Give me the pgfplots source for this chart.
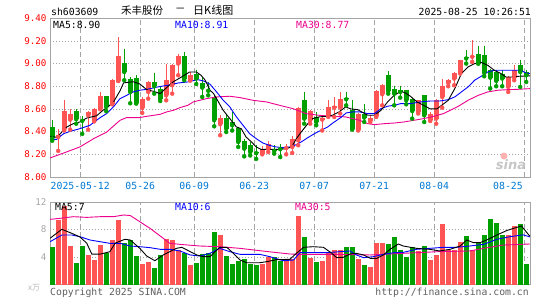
\documentclass[border=0pt]{standalone}
\usepackage{pgfplots}
\pgfplotsset{compat=1.18}
\usepackage{pgfplotstable}
\usepackage{fontspec}
\setmonofont{DejaVu Sans Mono}
\newfontfamily\cjk{Noto Sans CJK SC}
\newfontfamily\wm{DejaVu Sans}

\definecolor{upred}{RGB}{255,84,84}
\definecolor{dngreen}{RGB}{0,160,0}
\definecolor{gridgray}{RGB}{165,165,165}
\definecolor{datebl}{RGB}{0,120,210}
\definecolor{txtgray}{RGB}{95,95,95}

% i open high low close volume(10k)
\pgfplotstableread{
x o h l c v
1 8.353 8.426 8.23 8.374 9.35
2 8.42 8.676 8.41 8.58 11.38
3 8.506 8.597 8.418 8.553 5.58
6 8.544 8.58 8.418 8.574 4.28
7 8.50 8.612 8.49 8.603 3.55
8 8.603 8.75 8.597 8.712 5.72
10 8.647 8.868 8.641 8.853 6.45
11 8.847 9.235 8.847 9.065 9.35
15 8.609 8.706 8.565 8.691 2.97
16 8.75 8.847 8.691 8.838 3.31
19 8.72 9.00 8.676 8.853 6.59
20 8.809 9.00 8.735 8.985 6.45
21 9.00 9.082 8.897 9.065 5.0
23 8.853 8.926 8.85 8.897 2.83
28 8.465 8.544 8.368 8.524 7.17
35 8.206 8.27 8.20 8.25 2.97
36 8.25 8.32 8.22 8.288 4.03
39 8.255 8.294 8.20 8.265 3.41
40 8.265 8.359 8.212 8.338 3.65
41 8.324 8.618 8.28 8.609 9.93
43 8.50 8.588 8.47 8.582 3.89
45 8.506 8.544 8.41 8.524 3.45
46 8.544 8.676 8.53 8.618 4.52
47 8.612 8.706 8.53 8.622 5.0
48 8.612 8.75 8.56 8.691 5.0
51 8.418 8.56 8.41 8.559 3.65
53 8.494 8.544 8.485 8.524 2.58
54 8.535 8.765 8.53 8.759 5.97
55 8.73 8.82 8.632 8.809 6.06
61 8.573 8.682 8.56 8.676 4.86
63 8.50 8.574 8.494 8.559 3.55
64 8.515 8.691 8.47 8.682 4.28
65 8.706 8.868 8.612 8.80 8.72
66 8.83 8.86 8.80 8.853 5.0
67 8.868 8.926 8.809 8.918 5.0
68 8.918 9.035 8.912 9.03 6.21
70 9.06 9.212 9.015 9.07 5.0
76 8.794 8.888 8.75 8.882 7.2
77 8.876 8.985 8.853 8.941 8.53
}\uptab

\pgfplotstableread{
x o h l c v
0 8.44 8.50 8.32 8.34 5.39
4 8.58 8.60 8.47 8.51 3.16
5 8.505 8.535 8.38 8.495 5.58
9 8.712 8.712 8.58 8.618 4.61
12 9.006 9.132 8.853 8.926 6.06
13 8.862 8.88 8.65 8.75 6.45
14 8.877 8.897 8.647 8.653 4.13
17 8.838 8.918 8.735 8.80 2.39
18 8.779 8.794 8.67 8.691 4.28
22 9.065 9.103 8.853 8.868 4.52
24 8.912 8.94 8.82 8.868 3.16
25 8.83 8.88 8.706 8.788 4.42
26 8.77 8.838 8.72 8.76 4.61
27 8.706 8.72 8.447 8.50 7.6
29 8.524 8.544 8.397 8.427 4.13
30 8.485 8.574 8.41 8.456 2.97
31 8.435 8.441 8.265 8.309 3.45
32 8.315 8.338 8.182 8.25 3.7
33 8.279 8.309 8.19 8.22 2.97
34 8.22 8.28 8.16 8.21 2.83
37 8.25 8.279 8.206 8.229 4.03
38 8.255 8.294 8.176 8.245 3.41
42 8.676 8.75 8.47 8.515 6.93
44 8.53 8.574 8.456 8.485 3.31
49 8.695 8.75 8.632 8.685 5.48
50 8.588 8.676 8.418 8.426 5.39
52 8.559 8.641 8.485 8.524 2.83
56 8.897 8.935 8.735 8.759 5.82
57 8.78 8.80 8.632 8.735 6.93
58 8.765 8.80 8.70 8.75 5.0
59 8.765 8.77 8.641 8.676 4.03
60 8.691 8.695 8.515 8.582 5.39
62 8.72 8.72 8.485 8.544 5.58
69 9.055 9.118 9.00 9.045 7.03
71 9.088 9.153 9.00 9.00 5.97
72 9.074 9.153 8.888 8.918 7.17
73 8.947 8.956 8.78 8.876 9.49
74 8.926 8.94 8.80 8.847 8.96
75 8.912 8.947 8.80 8.868 7.17
78 8.985 9.03 8.794 8.926 8.72
79 8.926 8.941 8.838 8.897 2.97
}\dntab

\pgfplotsset{
  kpanel/.style={
    scale only axis, width=480pt,
    xmin=-0.37, xmax=79.63,
    axis line style={gridgray},
    major tick length=0pt,
    xmajorgrids, ymajorgrids,
    x grid style={gridgray, dash pattern=on 5pt off 3pt},
    y grid style={gridgray, dash pattern=on 1pt off 2pt},
    xtick={4.67,14.67,23.67,33.67,43.67,53.67,63.67},
    extra x ticks={78.67},
    extra x tick style={grid=major},
    clip=true,
  },
  wick/.style={only marks, mark=none,
    error bars/.cd, y dir=plus, y explicit, error mark=none,
    error bar style={line width=1pt}},
  body/.style={only marks, mark=none,
    error bars/.cd, y dir=plus, y explicit, error mark=none,
    error bar style={line width=5pt}},
}

\begin{document}
\begin{tikzpicture}
\useasboundingbox (0pt,0pt) rectangle (545pt,-300pt);

% price panel
\begin{axis}[kpanel,
  at={(50pt,-18.2pt)}, anchor=north west, height=158.8pt,
  ymin=8, ymax=9.4,
  ytick={8,8.2,8.4,8.6,8.8,9.0,9.2,9.4},
  yticklabels={8.00,8.20,8.40,8.60,8.80,9.00,9.20,9.40},
  yticklabel style={font=\ttfamily\fontsize{9.2}{10}\selectfont, text=red},
  xticklabels={2025-05-12,05-26,06-09,06-23,07-07,07-21,08-04},
  extra x tick labels={08-25},
  extra x tick style={grid=major, xticklabel style={anchor=north east, xshift=2pt}},
  xticklabel style={font=\ttfamily\fontsize{9.8}{10}\selectfont, text=datebl, yshift=-1.5pt},
]
\addplot[upred, wick] table[x=x, y=l, y error plus expr=\thisrow{h}-\thisrow{l}] {\uptab};
\addplot[upred, body] table[x=x, y=o, y error plus expr=\thisrow{c}-\thisrow{o}] {\uptab};
\addplot[dngreen, wick] table[x=x, y=l, y error plus expr=\thisrow{h}-\thisrow{l}] {\dntab};
\addplot[dngreen, body] table[x=x, y=c, y error plus expr=\thisrow{o}-\thisrow{c}] {\dntab};

% MA30
\addplot[magenta, line width=0.9pt] coordinates {
(-0.37,8.168) (2.4,8.221) (4.6,8.265) (6.9,8.338) (9.1,8.397) (11.3,8.50) (12.4,8.524)
(14.6,8.524) (15.75,8.535) (16.9,8.544) (18,8.553) (19.1,8.574) (20.2,8.588) (21.3,8.612)
(22.6,8.632) (23.5,8.662) (25.7,8.691) (27.4,8.706) (29.6,8.712) (31.3,8.70) (33.5,8.676)
(35.7,8.662) (37.9,8.632) (40.1,8.603) (42.3,8.559) (44.5,8.544) (46.7,8.535) (48.9,8.53)
(51.2,8.50) (52.6,8.47) (53.7,8.462) (55.3,8.47) (57,8.476) (58.6,8.485) (60.3,8.50)
(61.9,8.515) (63.6,8.535) (65.2,8.559) (66.1,8.582) (67.7,8.624) (69.3,8.676) (71,8.72)
(72.6,8.75) (74.3,8.765) (75.9,8.77) (77.6,8.773) (79.6,8.779)};
% MA10
\addplot[blue, line width=0.9pt] coordinates {
(-0.37,8.332) (0.75,8.332) (1.9,8.382) (3,8.403) (4.6,8.426) (6.3,8.456) (8,8.524)
(9.1,8.56) (10.2,8.618) (11.3,8.691) (12.4,8.72) (13.5,8.75) (14.6,8.765) (15.9,8.774)
(17.6,8.794) (19.3,8.809) (21,8.829) (22.6,8.838) (24.2,8.859) (25.2,8.847) (26.3,8.818)
(27.4,8.75) (28.5,8.676) (29.6,8.618) (30.7,8.53) (31.8,8.456) (32.9,8.382) (34,8.338)
(35.1,8.30) (36.2,8.279) (37.3,8.265) (38.4,8.259) (39.6,8.265) (40.4,8.279) (41.5,8.309)
(42.6,8.347) (43.7,8.382) (44.8,8.412) (45.9,8.441) (47,8.485) (48.1,8.524) (49,8.565)
(50.1,8.574) (51.2,8.574) (52.6,8.559) (53.7,8.559) (54.8,8.603) (55.9,8.624) (57,8.632)
(58.1,8.647) (59.7,8.647) (61.4,8.662) (63,8.67) (64.6,8.67) (66,8.682) (67.1,8.706)
(68.2,8.75) (69.3,8.794) (70.4,8.853) (71.5,8.888) (72.6,8.926) (73.7,8.941) (78.1,8.941)
(78.9,8.918) (79.6,8.912)};
% MA5
\addplot[black, line width=0.9pt] coordinates {
(-0.37,8.36) (0.75,8.35) (2.4,8.44) (3.5,8.47) (4.6,8.485) (5.75,8.52) (7.4,8.54)
(8.5,8.59) (9.1,8.61) (10.2,8.66) (11.3,8.76) (11.9,8.83) (13.5,8.84) (14.6,8.82)
(15.75,8.77) (16.9,8.755) (18,8.735) (19.1,8.79) (20.2,8.84) (21.5,8.88) (22.9,8.926)
(24,8.926) (24.8,8.897) (25.5,8.853) (26.3,8.765) (26.9,8.735) (27.7,8.662) (28.5,8.588)
(29.6,8.515) (30.7,8.441) (31.5,8.426) (32.3,8.353) (33.2,8.309) (34,8.265) (34.8,8.244)
(37.9,8.244) (39,8.25) (39.9,8.265) (40.7,8.338) (41.5,8.397) (42.6,8.47) (43.4,8.515)
(44.5,8.53) (45.6,8.535) (46.7,8.544) (47.8,8.574) (48.9,8.618) (49.8,8.60) (50.9,8.594)
(52.6,8.544) (53.7,8.544) (54.8,8.588) (55.9,8.662) (57,8.72) (58.1,8.756) (58.9,8.74)
(59.7,8.712) (60.8,8.662) (61.9,8.632) (63,8.60) (64.1,8.60) (64.9,8.632) (66,8.676)
(67.1,8.78) (68.2,8.912) (69.3,8.97) (70.4,9.00) (71.5,9.01) (72.6,8.985) (73.7,8.94)
(74.8,8.912) (75.6,8.882) (76.7,8.882) (77.8,8.888) (79,8.891) (79.6,8.891)};
\end{axis}

% volume panel
\begin{axis}[kpanel,
  at={(50pt,-201.7pt)}, anchor=north west, height=82.8pt,
  ymin=0, ymax=12,
  ytick={4,8,12}, yticklabels={4,8,12},
  yticklabel style={font=\ttfamily\fontsize{9.2}{10}\selectfont, text=gridgray},
  xticklabels={}, extra x tick labels={},
]
\addplot[ycomb, upred, line width=5pt] table[x=x, y=v] {\uptab};
\addplot[ycomb, dngreen, line width=5pt] table[x=x, y=v] {\dntab};
\addplot[magenta, line width=0.9pt] coordinates {
(-0.37,9.44) (1.3,9.59) (3.5,9.83) (5.75,9.73) (8,9.83) (10.2,9.83) (11.9,10.07) (13,10.0)
(14.6,9.1) (16.3,8.14) (18,7.03) (19.6,5.97) (21.3,5.82) (24.6,5.58) (27.9,5.48) (31.3,5.24)
(34.6,4.9) (37.7,4.6) (39.6,4.42) (41.9,4.37) (47.4,4.37) (53,4.28) (58.5,4.52) (64.4,4.76)
(69.6,4.86) (71.9,5.24) (75.2,5.72) (79.6,5.87)};
\addplot[blue, line width=0.9pt] coordinates {
(-0.37,6.2) (1.6,7.17) (3.3,7.17) (4.6,6.93) (6.3,6.45) (8,6.2) (9.6,5.97) (11.3,5.97)
(13,5.58) (14.6,5.48) (16.3,5.34) (18,5.1) (19.6,5.1) (21.3,4.86) (23,4.28) (24.6,4.13)
(26.3,4.52) (27.9,5.24) (29.6,4.76) (31.3,4.37) (34.6,4.37) (36.3,4.03) (38.5,3.45)
(40.2,3.55) (41.3,4.61) (45.7,4.61) (48,4.76) (49.6,4.86) (50.7,4.28) (51.9,3.89)
(53.5,4.03) (55.2,4.37) (56.9,4.61) (58.5,4.66) (60.7,5.1) (62.9,5.24) (65.2,5.39)
(67.4,5.39) (69.6,5.58) (71.9,5.82) (74.1,6.55) (76.3,6.93) (78.5,7.2) (79.6,6.9)};
\addplot[black, line width=0.9pt] coordinates {
(-0.37,6.7) (1.6,8.0) (3.3,7.4) (4.6,6.9) (5.75,6.0) (6.6,4.4) (8,4.4) (9.6,4.75)
(10.5,6.0) (12.1,6.55) (13,6.45) (14.6,5.24) (15.75,4.13) (17.1,3.45) (18.5,4.28)
(19.6,4.76) (20.7,5.24) (21.6,5.39) (23,4.76) (24.1,4.28) (25.2,4.03) (26.3,4.03)
(27.9,5.39) (29.1,5.39) (30.2,4.52) (31.3,3.55) (32.4,3.16) (34.6,3.16) (35.75,3.31)
(37.4,3.6) (39.6,3.65) (40.7,4.52) (41.9,5.39) (43.5,5.48) (45.2,5.39) (46.6,4.52)
(47.4,3.9) (48.5,3.94) (49.6,4.42) (50.7,4.52) (51.9,4.28) (53,3.79) (54.1,3.79)
(55.2,4.28) (56.3,5.1) (57.7,5.87) (58.5,5.58) (60.7,5.24) (62.9,5.1) (64.6,4.86)
(66.3,5.1) (68,5.58) (69.1,6.45) (70.2,6.06) (71.3,6.06) (72.4,6.45) (74.1,7.17)
(75.7,7.8) (76.9,8.14) (78.2,8.48) (79.6,7.0)};
\end{axis}

% header and labels
\node[anchor=west, inner sep=0pt, font=\ttfamily\fontsize{9.8}{10}\selectfont] at (51pt,-11.5pt) {sh603609};
\node[anchor=west, inner sep=0pt, font=\cjk\fontsize{10.5}{11}\selectfont] at (121pt,-10.5pt) {禾丰股份};
\node[anchor=west, inner sep=0pt, font=\cjk\fontsize{10.5}{11}\selectfont] at (175pt,-10.5pt) {－};
\node[anchor=west, inner sep=0pt, font=\cjk\fontsize{11}{11}\selectfont] at (193pt,-10.5pt) {日K线图};
\node[anchor=east, inner sep=0pt, font=\ttfamily\fontsize{9.8}{10}\selectfont] at (531pt,-11.5pt) {2025-08-25 10:26:51};

\node[anchor=west, inner sep=0pt, font=\ttfamily\fontsize{9.8}{10}\selectfont] at (53pt,-25pt) {MA5:8.90};
\node[anchor=west, inner sep=0pt, font=\ttfamily\fontsize{9.8}{10}\selectfont, text=blue] at (175pt,-25pt) {MA10:8.91};
\node[anchor=west, inner sep=0pt, font=\ttfamily\fontsize{9.8}{10}\selectfont, text=magenta] at (296pt,-25pt) {MA30:8.77};

\node[anchor=west, inner sep=0pt, font=\ttfamily\fontsize{9.8}{10}\selectfont] at (55pt,-206.5pt) {MA5:7};
\node[anchor=west, inner sep=0pt, font=\ttfamily\fontsize{9.8}{10}\selectfont, text=blue] at (175pt,-206.5pt) {MA10:6};
\node[anchor=west, inner sep=0pt, font=\ttfamily\fontsize{9.8}{10}\selectfont, text=magenta] at (295pt,-206.5pt) {MA30:5};

\node[anchor=west, inner sep=0pt, font=\cjk\fontsize{8}{9}\selectfont, text=gridgray!80] at (28pt,-288pt) {x万};
\node[anchor=west, inner sep=0pt, font=\ttfamily\fontsize{9.8}{10}\selectfont, text=txtgray] at (50pt,-292.5pt) {Copyright 2025 SINA.COM};
\node[anchor=east, inner sep=0pt, font=\ttfamily\fontsize{9.8}{10}\selectfont, text=txtgray] at (529pt,-292.5pt) {http://finance.sina.com.cn};

% watermark
\fill[red!30] (504pt,-156pt) circle (3.5pt);
\node[anchor=center, inner sep=0pt, font=\wm\bfseries\itshape\fontsize{13}{13}\selectfont, text=gray!45] at (511pt,-165pt) {sina};
\end{tikzpicture}
\end{document}
